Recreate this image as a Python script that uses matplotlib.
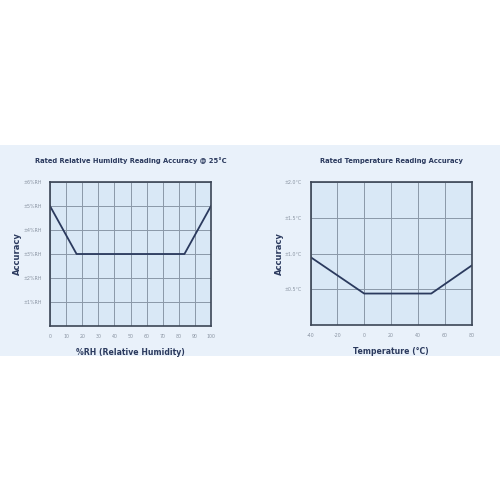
import matplotlib.pyplot as plt
from matplotlib.patches import Rectangle

# humidity accuracy chart
rh_x = [0, 16.5, 83.5, 100]
rh_y = [5, 3, 3, 5]
rh_xticks = [0, 10, 20, 30, 40, 50, 60, 70, 80, 90, 100]
rh_yticks = [1, 2, 3, 4, 5, 6]
rh_ylabels = ["±1%RH", "±2%RH", "±3%RH", "±4%RH", "±5%RH", "±6%RH"]

# temperature accuracy chart
t_x = [-40, 0, 50, 80]
t_y = [0.95, 0.44, 0.44, 0.83]
t_xticks = [-40, -20, 0, 20, 40, 60, 80]
t_yticks = [0.5, 1.0, 1.5, 2.0]
t_ylabels = ["±0.5°C", "±1.0°C", "±1.5°C", "±2.0°C"]

navy = "#2b3a5e"
face = "#d9e8f6"
panel = "#e9f1fa"
grid = "#8a98a8"

plt.rcParams["axes.unicode_minus"] = False


def style(ax, title, xlabel):
    ax.set_facecolor(face)
    ax.grid(True, color=grid, linewidth=0.7)
    ax.set_axisbelow(True)
    for s in ax.spines.values():
        s.set_color("#3c4656")
        s.set_linewidth(1.2)
    ax.tick_params(length=0, labelsize=3.4, labelcolor="#8a94a2", pad=6)
    ax.set_title(title, fontsize=4.9, fontweight="bold", color=navy, pad=14)
    ax.set_xlabel(xlabel, fontsize=5.6, fontweight="bold", color=navy, labelpad=6)
    ax.set_ylabel("Accuracy", fontsize=6, fontweight="bold", color=navy, labelpad=1)


def main():
    fig = plt.figure(figsize=(5, 5), dpi=100)
    bg = Rectangle((0, 0.288), 1, 0.422, transform=fig.transFigure,
                   facecolor=panel, edgecolor="none", zorder=-10)
    fig.add_artist(bg)

    ax1 = fig.add_axes([0.1, 0.348, 0.322, 0.288])
    ax1.plot(rh_x, rh_y, color=navy, linewidth=1.3)
    ax1.set_xlim(0, 100)
    ax1.set_ylim(0, 6)
    ax1.set_xticks(rh_xticks)
    ax1.set_yticks(rh_yticks)
    ax1.set_yticklabels(rh_ylabels)
    style(ax1, "Rated Relative Humidity Reading Accuracy @ 25°C", "%RH (Relative Humidity)")

    ax2 = fig.add_axes([0.621, 0.35, 0.322, 0.286])
    ax2.plot(t_x, t_y, color=navy, linewidth=1.3)
    ax2.set_xlim(-40, 80)
    ax2.set_ylim(0, 2.0)
    ax2.set_xticks(t_xticks)
    ax2.set_yticks(t_yticks)
    ax2.set_yticklabels(t_ylabels)
    style(ax2, "Rated Temperature Reading Accuracy", "Temperature (°C)")

    fig.savefig("out.png", dpi=100, facecolor="white")


main()
